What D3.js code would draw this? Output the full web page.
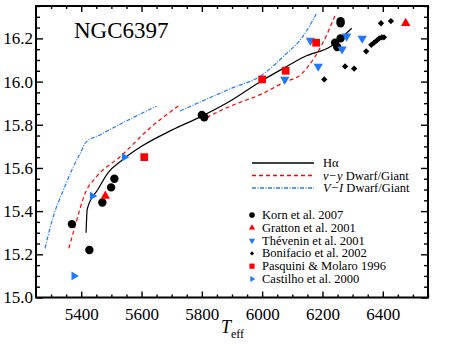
<!DOCTYPE html>
<html>
<head>
<meta charset="utf-8">
<script src="https://cdn.jsdelivr.net/npm/d3@7"></script>
<style>
  body { margin: 0; background: #fff; }
  text { font-family: "Liberation Serif", "DejaVu Serif", serif; }
</style>
</head>
<body>
<svg width="461" height="354"></svg>
<script>
// data points [Teff, V]
const korn = [[5369, 15.34], [5427, 15.22], [5470, 15.44], [5499, 15.51], [5510, 15.55],
    [5800, 15.845], [5808, 15.835], [6260, 16.28], [6260, 16.27], [6242, 16.18], [6260, 16.20], [6249, 16.16]];
const gratton = [[5480, 15.47], [6476, 16.27]];
const thevenin = [[6160, 16.19], [6280, 16.21], [6265, 16.15], [6332, 16.20], [6186, 16.07], [6075, 16.01]];
const bonifacio = [[6206, 16.01], [6275, 16.07], [6305, 16.06], [6345, 16.14], [6362, 16.17], [6371, 16.18],
    [6380, 16.19], [6388, 16.20], [6397, 16.205], [6404, 16.205], [6394, 16.27], [6427, 16.28]];
const pasquini = [[5609, 15.65], [6000, 16.01], [6078, 16.05], [6179, 16.18]];
const castilho = [[5376, 15.10], [5437, 15.47], [5543, 15.65]];

// curves
const halpha = [[5416, 15.30], [5420, 15.41], [5455, 15.50], [5490, 15.58], [5530, 15.63], [5600, 15.70],
    [5700, 15.775], [5800, 15.84], [5900, 15.915], [6000, 16.005], [6075, 16.065], [6140, 16.115],
    [6230, 16.165], [6297, 16.247]];
const vyDwarf = [[5359, 15.228], [5379, 15.328], [5413, 15.483], [5451, 15.56], [5529, 15.652],
    [5628, 15.785], [5722, 15.887]];
const vyGiant = [[5816, 15.834], [5893, 15.885], [5999, 15.943], [6076, 15.999], [6126, 16.03],
    [6175, 16.115], [6214, 16.216], [6245, 16.317]];
const viDwarf = [[5280, 15.228], [5307, 15.374], [5341, 15.498], [5374, 15.606], [5402, 15.683],
    [5413, 15.715], [5462, 15.753], [5650, 15.887]];
const viGiant = [[5728, 15.864], [5893, 15.966], [5999, 16.03], [6076, 16.124], [6131, 16.201], [6181, 16.317]];

const xMajor = [5400, 5600, 5800, 6000, 6200, 6400];
const yMajor = [15.0, 15.2, 15.4, 15.6, 15.8, 16.0, 16.2];

const svg = d3.select("svg");
const mLeft = 36, mRight = 428, mTop = 6, mBottom = 297.5;
const red = "#ff0000", blue = "#1f78ff";
const serif = "'Liberation Serif', 'DejaVu Serif', serif";

const x = d3.scaleLinear().domain([5250, 6550]).range([mLeft, mRight]);
const y = d3.scaleLinear().domain([15.0, 16.35]).range([mBottom, mTop]);

const xMinor = d3.range(5300, 6551, 50).filter(v => !xMajor.includes(v));
const yMinor = d3.range(15.05, 16.36, 0.05).map(v => +v.toFixed(2)).filter(v => !yMajor.some(m => Math.abs(m - v) < 1e-6));

// axes, ticks pointing inward
function styleAxis(g) {
    g.attr("font-family", serif);
    g.select(".domain").remove();
    g.selectAll(".tick line").attr("stroke", "#000").attr("stroke-width", 1.4);
    g.selectAll(".tick text").attr("fill", "#000").style("font-size", "17px")
        .style("font-family", serif);
}
svg.append("g").attr("transform", `translate(0,${mBottom})`)
    .call(d3.axisBottom(x).tickValues(xMajor).tickSize(-6).tickPadding(10).tickFormat(d3.format("d"))).call(styleAxis);
svg.append("g").attr("transform", `translate(0,${mBottom})`)
    .call(d3.axisBottom(x).tickValues(xMinor).tickSize(-3).tickFormat("")).call(styleAxis);
svg.append("g").attr("transform", `translate(0,${mTop})`)
    .call(d3.axisTop(x).tickValues(xMajor).tickSize(-6).tickFormat("")).call(styleAxis);
svg.append("g").attr("transform", `translate(0,${mTop})`)
    .call(d3.axisTop(x).tickValues(xMinor).tickSize(-3).tickFormat("")).call(styleAxis);
svg.append("g").attr("transform", `translate(${mLeft},0)`)
    .call(d3.axisLeft(y).tickValues(yMajor).tickSize(-7).tickPadding(3).tickFormat(d3.format(".1f"))).call(styleAxis);
svg.append("g").attr("transform", `translate(${mLeft},0)`)
    .call(d3.axisLeft(y).tickValues(yMinor).tickSize(-4).tickFormat("")).call(styleAxis);
svg.append("g").attr("transform", `translate(${mRight},0)`)
    .call(d3.axisRight(y).tickValues(yMajor).tickSize(-7).tickFormat("")).call(styleAxis);
svg.append("g").attr("transform", `translate(${mRight},0)`)
    .call(d3.axisRight(y).tickValues(yMinor).tickSize(-4).tickFormat("")).call(styleAxis);

svg.append("rect").attr("x", mLeft).attr("y", mTop)
    .attr("width", mRight - mLeft).attr("height", mBottom - mTop)
    .attr("fill", "none").attr("stroke", "#000").attr("stroke-width", 2);

// curves
const line = d3.line().x(d => x(d[0])).y(d => y(d[1])).curve(d3.curveMonotoneX);
const curves = [
    {data: halpha, color: "#000", dash: null},
    {data: vyDwarf, color: red, dash: "4,3"},
    {data: vyGiant, color: red, dash: "4,3"},
    {data: viDwarf, color: blue, dash: "4,1.5,1,1.5"},
    {data: viGiant, color: blue, dash: "4,1.5,1,1.5"}
];
curves.forEach(c => {
    svg.append("path").attr("d", line(c.data))
        .attr("fill", "none").attr("stroke", c.color).attr("stroke-width", 1.2)
        .attr("stroke-dasharray", c.dash);
});

// markers
const series = [
    {name: "Korn et al. 2007", data: korn, type: d3.symbolCircle, size: 55, rot: 0, color: "#000"},
    {name: "Gratton et al. 2001", data: gratton, type: d3.symbolTriangle, size: 38, rot: 0, color: red},
    {name: "Thévenin et al. 2001", data: thevenin, type: d3.symbolTriangle, size: 38, rot: 180, color: blue},
    {name: "Bonifacio et al. 2002", data: bonifacio, type: d3.symbolSquare, size: 20, rot: 45, color: "#000"},
    {name: "Pasquini & Molaro 1996", data: pasquini, type: d3.symbolSquare, size: 60, rot: 0, color: red},
    {name: "Castilho et al. 2000", data: castilho, type: d3.symbolTriangle, size: 32, rot: 90, color: blue}
];
series.forEach(s => {
    svg.append("g").selectAll("path").data(s.data).join("path")
        .attr("d", d3.symbol().type(s.type).size(s.size))
        .attr("transform", d => `translate(${x(d[0])},${y(d[1])}) rotate(${s.rot})`)
        .attr("fill", s.color);
});

// title
svg.append("text").attr("x", 74).attr("y", 38).style("font-size", "23px").text("NGC6397");

// x label
const xl = svg.append("text").attr("x", 221).attr("y", 333).style("font-size", "18px");
xl.append("tspan").style("font-style", "italic").text("T");
xl.append("tspan").attr("dy", 5).style("font-size", "12px").text("eff");

// line legend
const lineLegend = [
    {label: "Hα", color: "#000", dash: null},
    {label: "v−y Dwarf/Giant", color: red, dash: "4,3"},
    {label: "V−I Dwarf/Giant", color: blue, dash: "4,1.5,1,1.5"}
];
lineLegend.forEach((d, i) => {
    const yy = 163 + i * 12.5;
    svg.append("line").attr("x1", 252).attr("x2", 314).attr("y1", yy).attr("y2", yy)
        .attr("stroke", d.color).attr("stroke-width", 1.3).attr("stroke-dasharray", d.dash);
    const t = svg.append("text").attr("x", 323).attr("y", yy + 4).style("font-size", "12.5px");
    if (i === 0) t.text(d.label);
    else {
        const [a, b] = d.label.split(" ");
        t.append("tspan").style("font-style", "italic").text(a);
        t.append("tspan").text(" " + b);
    }
});

// symbol legend
series.forEach((s, i) => {
    const yy = 215 + i * 12.8;
    svg.append("path").attr("d", d3.symbol().type(s.type).size(s.size * 0.45))
        .attr("transform", `translate(252,${yy}) rotate(${s.rot})`).attr("fill", s.color);
    svg.append("text").attr("x", 262).attr("y", yy + 4).style("font-size", "12.5px").text(s.name);
});
</script>
</body>
</html>
